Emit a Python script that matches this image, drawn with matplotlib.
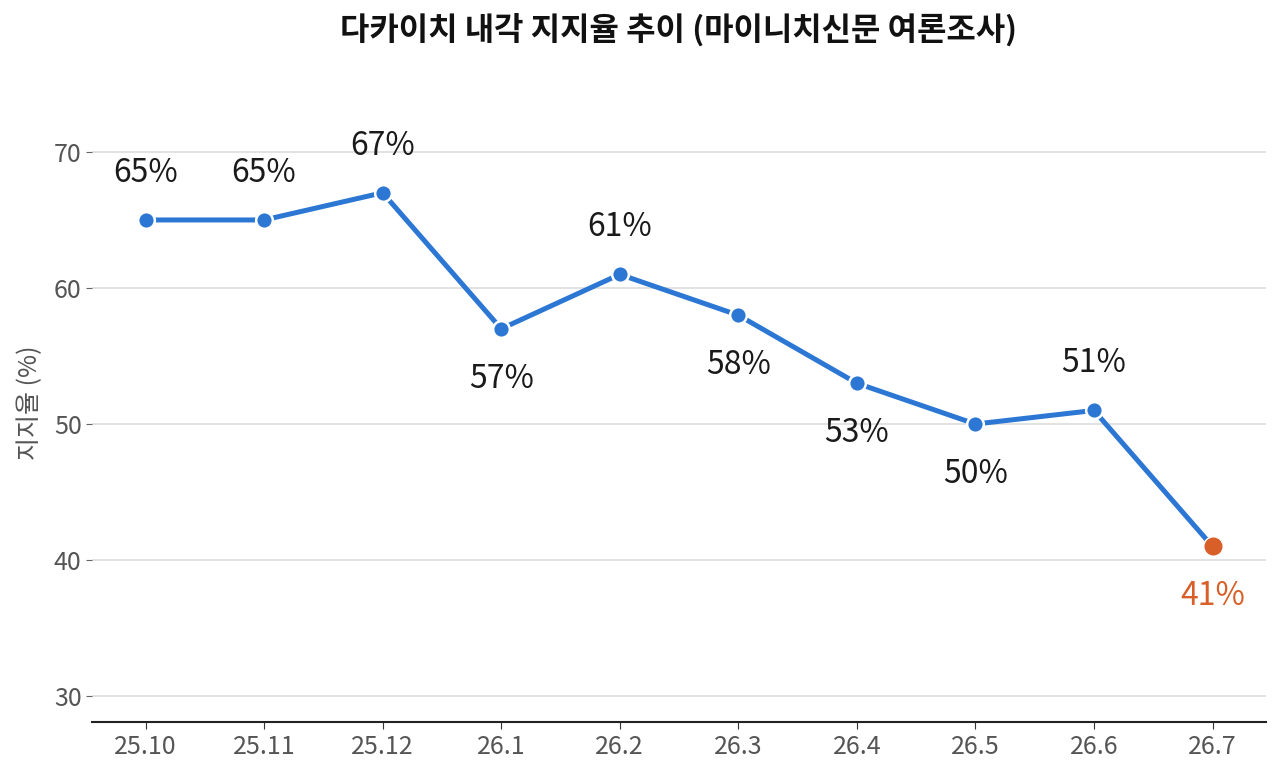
import matplotlib
matplotlib.use("Agg")
import matplotlib.pyplot as plt

plt.rcParams['font.family'] = ['Noto Sans CJK KR', 'DejaVu Sans']

# monthly approval rating
months = ['25.10', '25.11', '25.12', '26.1', '26.2', '26.3', '26.4', '26.5', '26.6', '26.7']
approval = [65, 65, 67, 57, 61, 58, 53, 50, 51, 41]
label_above = [True, True, True, False, True, False, False, False, True, False]

blue = '#2B77D3'
orange = '#D95F28'

fig, ax = plt.subplots(figsize=(12.8, 7.77), dpi=100)
fig.subplots_adjust(left=0.072, right=0.989, bottom=0.0708, top=0.892)

x = list(range(len(months)))
ax.plot(x, approval, color=blue, linewidth=3.6, zorder=3)
ax.plot(x[:-1], approval[:-1], 'o', color=blue, markersize=12,
        markeredgecolor='white', markeredgewidth=1.8, zorder=4)
ax.plot(x[-1:], approval[-1:], 'o', color=orange, markersize=14,
        markeredgecolor='white', markeredgewidth=1.0, zorder=4)

for i, v in enumerate(approval):
    c = orange if i == len(approval) - 1 else '#1a1a1a'
    if label_above[i]:
        ax.annotate(f'{v}%', (i, v), xytext=(0, 34), textcoords='offset points',
                    ha='center', va='center', fontsize=23, color=c)
    else:
        ax.annotate(f'{v}%', (i, v), xytext=(0, -36), textcoords='offset points',
                    ha='center', va='center', fontsize=23, color=c)

ax.set_xlim(-0.45, 9.45)
ax.set_ylim(28.1, 75)
ax.set_xticks(x)
ax.set_xticklabels(months)
ax.set_yticks([30, 40, 50, 60, 70])
ax.tick_params(axis='both', labelsize=18, colors='#555555')
ax.tick_params(axis='x', length=5, color='#333333')
ax.tick_params(axis='y', length=4, color='#666666')
ax.grid(axis='y', color='#dddddd', linewidth=1.2)
ax.set_axisbelow(True)
for s in ['top', 'right', 'left']:
    ax.spines[s].set_visible(False)
ax.spines['bottom'].set_color('#222222')
ax.spines['bottom'].set_linewidth(1.5)

ax.set_ylabel('지지율 (%)', fontsize=18, color='#555555', labelpad=8)
fig.text(0.5305, 0.962, '다카이치 내각 지지율 추이 (마이니치신문 여론조사)', fontsize=23,
         fontweight='bold', ha='center', va='center', color='#111111')

fig.savefig('out.png', dpi=100)
